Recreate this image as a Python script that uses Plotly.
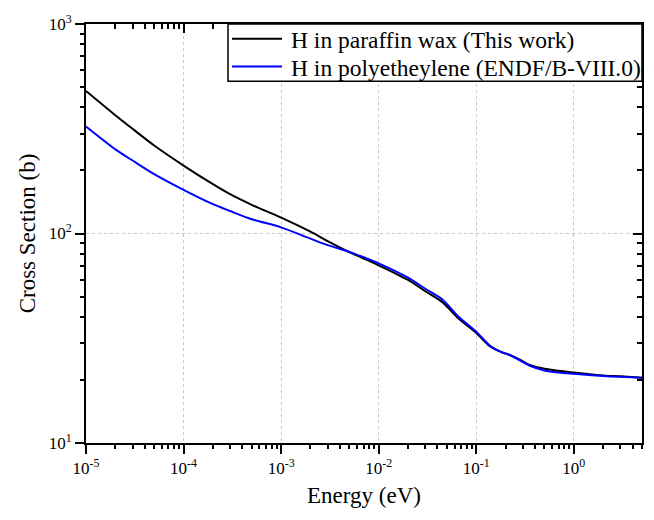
import math
import plotly.graph_objects as go

energy = [1e-5, 2e-5, 3e-5, 5e-5, 1e-4, 2e-4, 3e-4, 5e-4, 1e-3, 2e-3, 3e-3, 5e-3, 7e-3,
          1e-2, 2e-2, 3e-2, 4.5e-2, 6.5e-2, 0.1, 0.14, 0.18, 0.22, 0.28, 0.36, 0.5, 0.7,
          1.0, 2.0, 3.0, 5.0]
paraffin = [479, 367, 316, 263, 211, 172, 154, 137, 119, 102, 92, 81.5, 76,
            70.5, 60, 53, 47, 39.5, 33.5, 28.8, 27.2, 26.3, 25.0, 23.5, 22.6, 22.1,
            21.7, 21.0, 20.8, 20.5]
polyethylene = [324, 252, 223, 192, 161.5, 138, 128, 117, 107, 94.5, 88, 81.7, 77,
                72, 61.5, 54.5, 48.4, 40.3, 34, 29.0, 27.2, 26.3, 24.8, 23.3, 22.2, 21.7,
                21.4, 20.9, 20.7, 20.5]
series_names = ["H in paraffin wax (This work)", "H in polyetheylene (ENDF/B-VIII.0)"]
series_colors = ["black", "#0000ff"]

x_tickvals = [1e-5, 1e-4, 1e-3, 1e-2, 1e-1, 1e0]
x_ticktext = ["10<sup>-5</sup>", "10<sup>-4</sup>", "10<sup>-3</sup>", "10<sup>-2</sup>",
              "10<sup>-1</sup>", "10<sup>0</sup>"]
y_tickvals = [10, 100, 1000]
y_ticktext = ["10<sup>1</sup>", "10<sup>2</sup>", "10<sup>3</sup>"]

x_minor = [m * 10.0 ** e for e in range(-5, 1) for m in range(2, 10)]
y_minor = [m * 10.0 ** e for e in range(1, 3) for m in range(2, 10)]

FONT = "Liberation Serif"
W, H = 654, 520
ML, MR, MT, MB = 86, 12, 19, 77

xr = [-5, math.log10(5.0)]
yr = [1, 3]

fig = go.Figure()
for ys, nm, col in zip([paraffin, polyethylene], series_names, series_colors):
    fig.add_trace(go.Scatter(x=energy, y=ys, mode="lines", name=nm, showlegend=False,
                             line=dict(color=col, width=2, shape="spline", smoothing=0.8)))


def ax(rng, vals, direction, side, length=9, overlay=None, anchor=None, labels=None,
       grid=False, title=None, standoff=10, line=True):
    d = dict(type="log", range=rng, tickmode="array", tickvals=vals,
             ticks=direction, ticklen=length, tickwidth=2, tickcolor="black",
             showline=line, linecolor="black", linewidth=2, zeroline=False,
             showgrid=grid, side=side, fixedrange=True)
    if labels is not None:
        d.update(ticktext=labels, showticklabels=True,
                 tickfont=dict(family=FONT, size=17, color="black"))
    else:
        d.update(showticklabels=False)
    if grid:
        d.update(gridcolor="#c8c8c8", griddash="dot", gridwidth=1)
    if overlay:
        d["overlaying"] = overlay
    if anchor:
        d["anchor"] = anchor
    if title:
        d["title"] = dict(text=title, font=dict(family=FONT, size=23, color="black"),
                          standoff=standoff)
    return d


fig.update_layout(
    width=W, height=H,
    margin=dict(l=ML, r=MR, t=MT, b=MB),
    paper_bgcolor="white", plot_bgcolor="white",
    font=dict(family=FONT, size=17, color="black"),
    showlegend=False,
    xaxis=ax(xr, x_tickvals, "outside", "bottom", labels=x_ticktext, grid=True,
             title="Energy (eV)", anchor="y", standoff=9),
    yaxis=ax(yr, y_tickvals, "outside", "left", labels=y_ticktext, grid=True,
             title="Cross Section (b)", anchor="x", standoff=7),
    xaxis2=ax(xr, x_tickvals, "inside", "top", overlay="x", anchor="y2"),
    yaxis2=ax(yr, y_tickvals, "inside", "right", overlay="y", anchor="x2"),
    # minor ticks: separate overlay axes that carry only short tick marks
    xaxis3=ax(xr, x_minor, "outside", "bottom", length=5, overlay="x", anchor="y3", line=False),
    yaxis3=ax(yr, y_minor, "outside", "left", length=5, overlay="y", anchor="x3", line=False),
    xaxis4=ax(xr, x_minor, "inside", "top", length=5, overlay="x", anchor="y4", line=False),
    yaxis4=ax(yr, y_minor, "inside", "right", length=5, overlay="y", anchor="x4", line=False),
)

# invisible helper traces so the overlay axes are drawn
for k in ["2", "3", "4"]:
    fig.add_trace(go.Scatter(x=[energy[0]], y=[paraffin[0]], xaxis="x" + k, yaxis="y" + k,
                             mode="markers", marker=dict(opacity=0), showlegend=False,
                             hoverinfo="skip"))

# legend box (top-right inside the plot area)
box_x0, box_y0 = 0.2554, 0.8632
row_y = [0.9646, 0.8986]
line_x0, line_x1, text_x = 0.2626, 0.3525, 0.3650
fig.add_shape(type="rect", xref="paper", yref="paper", x0=box_x0, x1=1.0, y0=box_y0, y1=1.0,
              line=dict(color="black", width=1.5), fillcolor="white", layer="above")
for ry, nm, col in zip(row_y, series_names, series_colors):
    fig.add_shape(type="line", xref="paper", yref="paper", x0=line_x0, x1=line_x1,
                  y0=ry, y1=ry, line=dict(color=col, width=2), layer="above")
    fig.add_annotation(xref="paper", yref="paper", x=text_x, y=ry - 0.003, text=nm,
                       showarrow=False, xanchor="left", yanchor="middle",
                       font=dict(family=FONT, size=23.5, color="black"))

fig.write_html("out.html")
